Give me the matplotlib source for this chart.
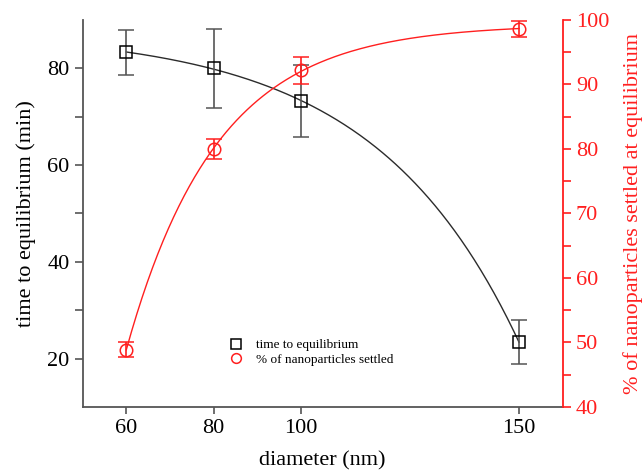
import numpy as np
import matplotlib
matplotlib.use("Agg")
import matplotlib.pyplot as plt
from matplotlib.ticker import FixedLocator
from matplotlib.lines import Line2D

plt.rcParams['font.family'] = ['Liberation Serif', 'DejaVu Serif']

diameter = np.array([60, 80, 100, 150])
time_eq = np.array([83.3, 80.0, 73.3, 23.4])
time_err = np.array([4.7, 8.1, 7.4, 4.6])
settled = np.array([48.9, 80.0, 92.2, 98.6])
settled_err = np.array([1.1, 1.6, 2.1, 1.2])

BLACK = '#2b2b2b'
GRAY = '#555555'
RED = '#ff1f1f'


def fit_exp(x, y, sign):
    # y = A + B*exp(sign*x/c), grid search on c, least squares for A, B
    best = None
    for c in np.linspace(5, 200, 2000):
        M = np.column_stack([np.ones_like(x, dtype=float), np.exp(sign * x / c)])
        coef, *_ = np.linalg.lstsq(M, y, rcond=None)
        r = np.sum((M @ coef - y) ** 2)
        if best is None or r < best[0]:
            best = (r, c, coef)
    _, c, coef = best
    return lambda t: coef[0] + coef[1] * np.exp(sign * t / c)


fig = plt.figure(figsize=(6.43, 4.74), dpi=100)
ax = fig.add_axes([0.1286, 0.1414, 0.7464, 0.8164])
ax2 = ax.twinx()

xs = np.linspace(diameter.min(), diameter.max(), 300)
f_time = fit_exp(diameter.astype(float), time_eq, 1.0)
f_set = fit_exp(diameter.astype(float), settled, -1.0)

ax.plot(xs, f_time(xs), color=BLACK, lw=1.0, zorder=2)
ax.errorbar(diameter, time_eq, yerr=time_err, fmt='s', mfc='none', mec='black',
            ms=8.5, mew=1.1, ecolor=GRAY, elinewidth=1.2, capsize=6, capthick=1.2,
            zorder=3)
ax2.plot(xs, f_set(xs), color=RED, lw=1.0, zorder=2)
ax2.errorbar(diameter, settled, yerr=settled_err, fmt='o', mfc='none', mec=RED,
             ms=9, mew=1.1, ecolor=RED, elinewidth=1.2, capsize=6, capthick=1.2,
             zorder=3)

ax.set_xlim(50, 160)
ax.set_ylim(10, 90)
ax2.set_ylim(40, 100)
ax.set_xticks(diameter)
ax.set_yticks([20, 40, 60, 80])
ax.yaxis.set_minor_locator(FixedLocator([30, 50, 70]))
ax2.set_yticks([40, 50, 60, 70, 80, 90, 100])
ax2.yaxis.set_minor_locator(FixedLocator([45, 55, 65, 75, 85, 95]))

for a in (ax, ax2):
    a.spines['top'].set_visible(False)
ax.spines['right'].set_visible(False)
ax.spines['left'].set_color(GRAY)
ax.spines['bottom'].set_color(GRAY)
ax.spines['left'].set_linewidth(1.3)
ax.spines['bottom'].set_linewidth(1.3)
ax2.spines['left'].set_visible(False)
ax2.spines['bottom'].set_visible(False)
ax2.spines['right'].set_color(RED)
ax2.spines['right'].set_linewidth(1.3)

ax.tick_params(axis='both', which='both', direction='out', length=6, width=1.2,
               color=GRAY, labelsize=16, labelcolor='black')
ax.tick_params(axis='x', which='major', length=5)
ax2.tick_params(axis='y', which='both', direction='out', length=6, width=1.2,
                color=RED, labelsize=16, labelcolor=RED)

ax.set_xlabel('diameter (nm)', fontsize=16, labelpad=10)
ax.set_ylabel('time to equilibrium (min)', fontsize=16, labelpad=8)
ax2.set_ylabel('% of nanoparticles settled at equilibrium', fontsize=16,
               color=RED, labelpad=10)

handles = [Line2D([], [], ls='none', marker='s', mfc='none', mec='black', ms=7, mew=1.1),
           Line2D([], [], ls='none', marker='o', mfc='none', mec=RED, ms=7, mew=1.1)]
ax.legend(handles, ['time to equilibrium', '% of nanoparticles settled'],
          loc='lower left', bbox_to_anchor=(0.29, 0.09), frameon=False,
          fontsize=9.5, handletextpad=0.9, labelspacing=0.15, borderpad=0,
          handlelength=1.2)

fig.savefig('out.png', dpi=100)
